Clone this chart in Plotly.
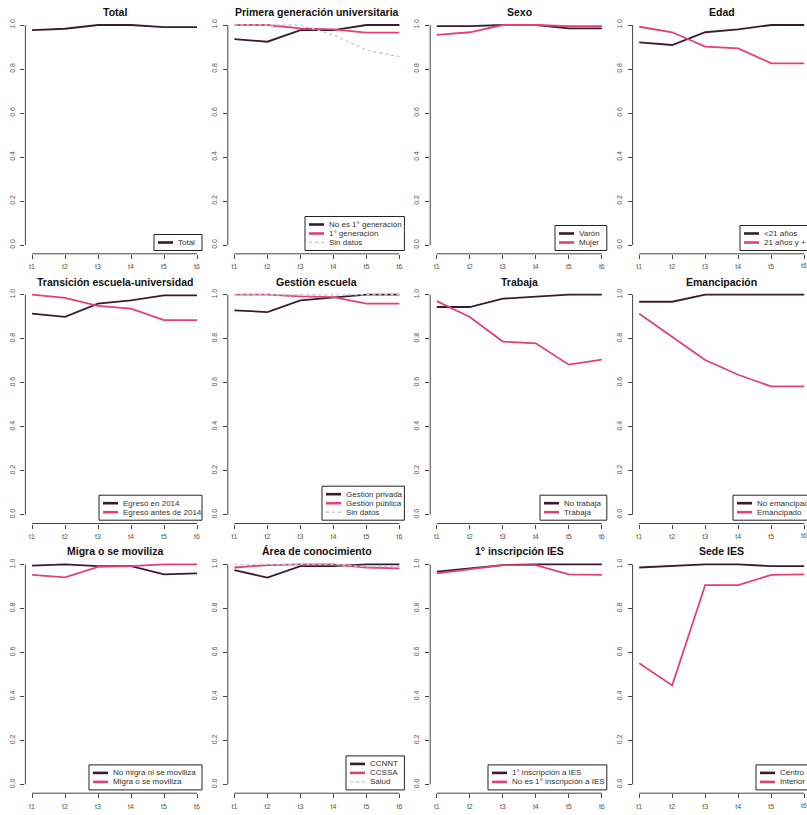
import plotly.graph_objects as go

# ---------------- data ----------------
x_vals = [1, 2, 3, 4, 5, 6]
x_labels = ["t1", "t2", "t3", "t4", "t5", "t6"]
y_ticks = [0.0, 0.2, 0.4, 0.6, 0.8, 1.0]
y_ticklabels = ["0.0", "0.2", "0.4", "0.6", "0.8", "1.0"]

titles = ["Total", "Primera generación universitaria", "Sexo", "Edad",
          "Transición escuela-universidad", "Gestión escuela", "Trabaja", "Emancipación",
          "Migra o se moviliza", "Área de conocimiento", "1° inscripción IES", "Sede IES"]

total = [0.977, 0.983, 1.0, 1.0, 0.99, 0.99]

pg_no_primera = [0.936, 0.924, 0.977, 0.977, 1.0, 1.0]
pg_primera = [1.0, 1.0, 0.985, 0.98, 0.965, 0.965]
pg_sin_datos = [1.0, 1.0, 1.0, 0.955, 0.886, 0.856]

sexo_varon = [0.995, 0.995, 1.0, 1.0, 0.985, 0.985]
sexo_mujer = [0.955, 0.967, 1.0, 1.0, 0.995, 0.995]

edad_menor21 = [0.921, 0.909, 0.967, 0.98, 1.0, 1.0]
edad_21mas = [0.992, 0.967, 0.902, 0.894, 0.826, 0.826]

trans_2014 = [0.914, 0.899, 0.959, 0.974, 0.997, 0.997]
trans_antes = [1.0, 0.986, 0.949, 0.937, 0.884, 0.884]

gest_privada = [0.929, 0.921, 0.974, 0.986, 1.0, 1.0]
gest_publica = [1.0, 1.0, 0.992, 0.989, 0.959, 0.959]
gest_sin_datos = [1.0, 1.0, 1.0, 1.0, 1.0, 1.0]

trab_no = [0.944, 0.944, 0.982, 0.992, 1.0, 1.0]
trab_si = [0.971, 0.899, 0.787, 0.779, 0.682, 0.705]

eman_no = [0.968, 0.968, 1.0, 1.0, 1.0, 1.0]
eman_si = [0.913, 0.808, 0.703, 0.636, 0.583, 0.583]

migra_no = [0.994, 1.0, 0.992, 0.992, 0.955, 0.959]
migra_si = [0.952, 0.941, 0.989, 0.992, 1.0, 1.0]

area_ccnnt = [0.974, 0.94, 0.992, 0.992, 1.0, 1.0]
area_ccssa = [0.986, 0.997, 1.0, 1.0, 0.986, 0.982]
area_salud = [1.0, 1.0, 1.0, 1.0, 0.99, 0.99]

insc_primera = [0.967, 0.982, 0.997, 1.0, 1.0, 1.0]
insc_no_primera = [0.959, 0.977, 0.997, 0.997, 0.955, 0.952]

sede_centro = [0.986, 0.992, 1.0, 1.0, 0.992, 0.992]
sede_interior = [0.551, 0.45, 0.906, 0.906, 0.952, 0.955]

# ---------------- styles / structure ----------------
DARK = "#3a1d2c"
PINK = "#e2407a"
LIGHT = "#c9c9c9"

S_DARK = dict(color=DARK, width=1.8)
S_PINK = dict(color=PINK, width=1.8)
S_DOT = dict(color=LIGHT, width=1.4, dash="dot")

panels = [
    [("Total", total, S_DARK)],
    [("No es 1° generación", pg_no_primera, S_DARK), ("1° generación", pg_primera, S_PINK),
     ("Sin datos", pg_sin_datos, S_DOT)],
    [("Varón", sexo_varon, S_DARK), ("Mujer", sexo_mujer, S_PINK)],
    [("<21 años", edad_menor21, S_DARK), ("21 años y +", edad_21mas, S_PINK)],
    [("Egresó en 2014", trans_2014, S_DARK), ("Egresó antes de 2014", trans_antes, S_PINK)],
    [("Gestión privada", gest_privada, S_DARK), ("Gestión pública", gest_publica, S_PINK),
     ("Sin datos", gest_sin_datos, S_DOT)],
    [("No trabaja", trab_no, S_DARK), ("Trabaja", trab_si, S_PINK)],
    [("No emancipado", eman_no, S_DARK), ("Emancipado", eman_si, S_PINK)],
    [("No migra ni se moviliza", migra_no, S_DARK), ("Migra o se moviliza", migra_si, S_PINK)],
    [("CCNNT", area_ccnnt, S_DARK), ("CCSSA", area_ccssa, S_PINK), ("Salud", area_salud, S_DOT)],
    [("1° inscripción a IES", insc_primera, S_DARK), ("No es 1° inscripción a IES", insc_no_primera, S_PINK)],
    [("Centro", sede_centro, S_DARK), ("Interior", sede_interior, S_PINK)],
]
# legend box left edge (px) per panel
legend_left = [154, 305, 555, 740, 99, 322, 540, 733, 89, 346, 488, 756]

W, H = 807, 815
UNIT_X = 33.0
UNIT_Y = 220.0
COL_T1 = [32.0, 234.4, 436.8, 639.2]
ROW_TOP = [25.0, 294.7, 564.4]

def fx(p):
    return p / W

def fy(p):
    return 1 - p / H

fig = go.Figure()
shapes = []
annotations = []
FONT = "Liberation Sans, Arial, sans-serif"
TICKFONT = dict(size=7, color="#555", family=FONT)

for i, series in enumerate(panels):
    r, c = divmod(i, 4)
    n = i + 1
    t1 = COL_T1[c]
    t6 = t1 + 5 * UNIT_X
    left = t1 - 0.2 * UNIT_X
    right = t6 + 0.2 * UNIT_X
    xr_hi = 6.2
    clipped = False
    if right > W:
        xr_hi = 0.8 + (W - left) / UNIT_X
        right = W
        clipped = True
    ytop1 = ROW_TOP[r]
    ybot0 = ytop1 + UNIT_Y
    dtop = ytop1 - 0.04 * UNIT_Y
    dbot = ybot0 + 0.04 * UNIT_Y

    xa = "x" if n == 1 else f"x{n}"
    ya = "y" if n == 1 else f"y{n}"
    for name, vals, st in series:
        fig.add_trace(go.Scatter(x=x_vals, y=vals, mode="lines", name=name, line=st,
                                 xaxis=xa, yaxis=ya, showlegend=False, hoverinfo="skip"))

    axis_common = dict(showgrid=False, zeroline=False, showline=False, ticks="outside",
                       ticklen=4, tickwidth=1, tickcolor="#444", tickfont=TICKFONT)
    fig.update_layout(**{
        ("xaxis" if n == 1 else f"xaxis{n}"): dict(
            domain=[fx(left), fx(right)], range=[0.8, xr_hi], anchor=ya,
            tickvals=x_vals, ticktext=x_labels, ticklabelstandoff=2, **axis_common),
        ("yaxis" if n == 1 else f"yaxis{n}"): dict(
            domain=[fy(dbot), fy(dtop)], range=[-0.04, 1.04], anchor=xa,
            tickvals=y_ticks, ticktext=y_ticklabels, tickangle=-90,
            ticklabelstandoff=3, **axis_common),
    })

    # last tick label at the clipped right edge (plotly drops it there)
    if clipped:
        annotations.append(dict(text=x_labels[-1], xref=xa, yref="paper",
                                x=x_vals[-1], y=fy(dbot + 12), xanchor="center",
                                yanchor="middle", showarrow=False, font=TICKFONT))

    # R-style axis lines spanning only the tick range
    shapes.append(dict(type="line", xref="paper", yref="paper",
                       x0=fx(left), x1=fx(left), y0=fy(ytop1), y1=fy(ybot0),
                       line=dict(color="#444", width=1)))
    shapes.append(dict(type="line", xref="paper", yref="paper",
                       x0=fx(t1), x1=fx(t6), y0=fy(dbot), y1=fy(dbot),
                       line=dict(color="#444", width=1)))

    # title
    annotations.append(dict(text=f"<b>{titles[i]}</b>", xref="paper", yref="paper",
                            x=fx((left + t6 + 0.2 * UNIT_X) / 2), y=fy(ytop1 - 13),
                            xanchor="center", yanchor="middle", showarrow=False,
                            font=dict(size=10.5, color="#111", family=FONT)))

    # legend box (bottom right)
    k = len(series)
    bh = 7 + 9 * k
    bb = ybot0 + 5.5
    bt = bb - bh
    bl = legend_left[i]
    br = t6 + 5 if t6 + 5 < W else 812
    shapes.append(dict(type="rect", xref="paper", yref="paper",
                       x0=fx(bl), x1=fx(br), y0=fy(bb), y1=fy(bt),
                       line=dict(color="#222", width=1), fillcolor="white", layer="above"))
    for j, (name, vals, st) in enumerate(series):
        yy = bt + 8 + 9 * j
        lw = 2.6 if st is not S_DOT else 1.4
        shapes.append(dict(type="line", xref="paper", yref="paper",
                           x0=fx(bl + 4), x1=fx(bl + 19), y0=fy(yy), y1=fy(yy),
                           line=dict(color=st["color"], width=lw, dash=st.get("dash", "solid")),
                           layer="above"))
        annotations.append(dict(text=name, xref="paper", yref="paper",
                                x=fx(bl + 22), y=fy(yy), xanchor="left", yanchor="middle",
                                showarrow=False,
                                font=dict(size=8, color="#333", family=FONT)))

fig.update_layout(width=W, height=H, margin=dict(l=0, r=0, t=0, b=0),
                  paper_bgcolor="white", plot_bgcolor="white",
                  shapes=shapes, annotations=annotations, showlegend=False)

fig.write_html("out.html", config={"displayModeBar": False},
               post_script="document.body.style.margin='0px';document.body.style.overflow='hidden';")
